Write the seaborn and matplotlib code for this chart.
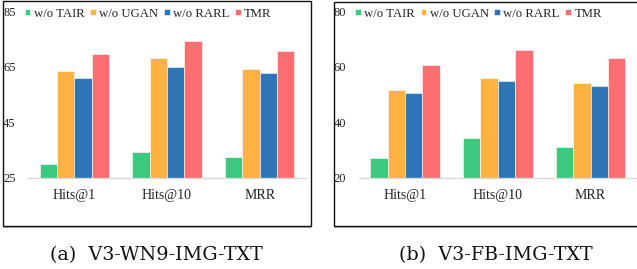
import pandas as pd
import numpy as np
import matplotlib.pyplot as plt
import seaborn as sns
from matplotlib.patches import Rectangle


metrics = ['Hits@1', 'Hits@10', 'MRR']
methods = ['w/o TAIR', 'w/o UGAN', 'w/o RARL', 'TMR']
colors = ['#3CC97F', '#FDB241', '#2E75B6', '#FD6E70']

# V3-WN9-IMG-TXT
wn9_tair = [30.0, 34.5, 32.7]
wn9_ugan = [63.6, 68.0, 64.1]
wn9_rarl = [61.0, 64.9, 62.9]
wn9_tmr = [69.6, 74.4, 70.8]

# V3-FB-IMG-TXT
fb_tair = [27.1, 34.4, 31.2]
fb_ugan = [51.7, 56.0, 54.2]
fb_rarl = [50.5, 54.9, 53.1]
fb_tmr = [60.5, 65.9, 63.1]

captions = ['(a)  V3-WN9-IMG-TXT', '(b)  V3-FB-IMG-TXT']


def to_long(tair, ugan, rarl, tmr):
    rows = []
    for name, vals in zip(methods, [tair, ugan, rarl, tmr]):
        for m, v in zip(metrics, vals):
            rows.append({'metric': m, 'method': name, 'value': v})
    return pd.DataFrame(rows)


df_wn9 = to_long(wn9_tair, wn9_ugan, wn9_rarl, wn9_tmr)
df_fb = to_long(fb_tair, fb_ugan, fb_rarl, fb_tmr)

sns.set_style('white')
plt.rcParams['font.family'] = ['Liberation Serif', 'DejaVu Serif']

W, H = 637, 269
fig = plt.figure(figsize=(W / 100, H / 100), dpi=100)

# axes boxes in pixel coords: (left, right, top, bottom)
panels = [
    (df_wn9, (28, 306, 11, 178), (25, 85), [25, 45, 65, 85]),
    (df_fb, (358.5, 637, 11, 178), (20, 80), [20, 40, 60, 80]),
]

for df, (l, r, t, b), ylim, yticks in panels:
    ax = fig.add_axes([l / W, (H - b) / H, (r - l) / W, (b - t) / H])
    sns.barplot(data=df, x='metric', y='value', hue='method', hue_order=methods,
                palette=colors, width=0.75, saturation=1, ax=ax,
                edgecolor='white', linewidth=0.4)
    ax.set_ylim(*ylim)
    ax.set_yticks(yticks)
    ax.set_xlim(-0.5, 2.5)
    ax.set_xlabel('')
    ax.set_ylabel('')
    for s in ['left', 'right', 'top']:
        ax.spines[s].set_visible(False)
    ax.spines['bottom'].set_color('#d9d9d9')
    ax.spines['bottom'].set_linewidth(1)
    ax.tick_params(axis='x', length=0, pad=8, labelsize=10, colors='#222222')
    ax.tick_params(axis='y', length=0, pad=9, labelsize=9, colors='#222222')
    ax.legend(loc='center left', bbox_to_anchor=(-0.012, 0.985), ncol=4,
              frameon=False, fontsize=9.2, handlelength=0.45, handleheight=0.45,
              handletextpad=0.25, columnspacing=0.45, borderpad=0, borderaxespad=0)

# panel frames
for (x0, y0, x1, y1) in [(3, 1, 311, 226), (334, 2, 640, 226)]:
    fig.add_artist(Rectangle((x0 / W, (H - y1 - 1.5) / H), (x1 - x0) / W, 1.5 / H,
                             transform=fig.transFigure, facecolor='#bbbbbb',
                             edgecolor='none'))
    fig.add_artist(Rectangle((x0 / W, (H - y1) / H), (x1 - x0) / W, (y1 - y0) / H,
                             transform=fig.transFigure, fill=False,
                             edgecolor='#111111', linewidth=1))

fig.text(156 / W, (H - 260) / H, captions[0], ha='center', va='baseline',
         fontsize=13.8, family=['DejaVu Serif'], color='#111111')
fig.text(495.5 / W, (H - 260) / H, captions[1], ha='center', va='baseline',
         fontsize=13.8, family=['DejaVu Serif'], color='#111111')

plt.savefig('out.png', dpi=100)
